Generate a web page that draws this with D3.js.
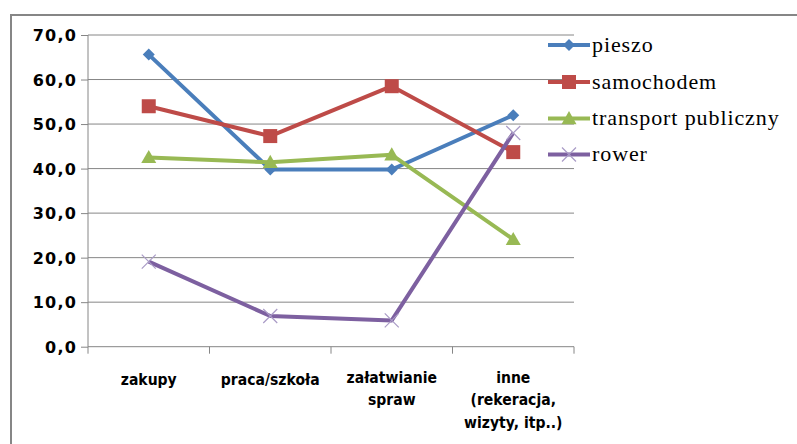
<!DOCTYPE html>
<html><head><meta charset="utf-8">
<script src="https://cdn.jsdelivr.net/npm/d3@7/dist/d3.min.js"></script>
<style>body{margin:0;background:#fff}svg{display:block}
.leg{font-family:"Liberation Serif","Times New Roman","DejaVu Serif",serif}</style>
</head><body>
<svg id="c" width="797" height="444"></svg>
<script>
const categories = ["zakupy", "praca/szkoła", "załatwianie spraw", "inne (rekeracja, wizyty, itp..)"];
const categoryLines = [["zakupy"], ["praca/szkoła"], ["załatwianie", "spraw"], ["inne", "(rekeracja,", "wizyty, itp..)"]];
const seriesNames = ["pieszo", "samochodem", "transport publiczny", "rower"];
const pieszo = [65.6, 39.8, 39.8, 52.0];
const samochodem = [54.0, 47.3, 58.5, 43.7];
const transportPubliczny = [42.5, 41.4, 43.1, 24.1];
const rower = [19.1, 6.9, 5.9, 48.0];
const yTicks = [0, 10, 20, 30, 40, 50, 60, 70];
const colors = ["#4a7ebb", "#be4b48", "#98b954", "#7d60a0"];
const markers = ["diamond", "square", "triangle", "x"];
const seriesValues = [pieszo, samochodem, transportPubliczny, rower];

const svg = d3.select("#c");
const gray = "#868686";

// outer border
svg.append("path").attr("d", "M11,444 V15 H797").attr("fill", "none").attr("stroke", gray).attr("stroke-width", 2);

const pLeft = 88, pRight = 574, pTop = 35, pBottom = 346.7;
const x = d3.scaleBand().domain(categories).range([pLeft, pRight]);
const y = d3.scaleLinear().domain([0, 70]).range([pBottom, pTop]);

// gridlines
svg.append("g").selectAll("line").data(yTicks.filter(d => d > 0)).join("line")
  .attr("x1", pLeft).attr("x2", pRight).attr("y1", d => y(d)).attr("y2", d => y(d))
  .attr("stroke", gray).attr("stroke-width", 1);

// y axis
const yAxis = d3.axisLeft(y).tickValues(yTicks).tickSize(7).tickPadding(4)
  .tickFormat(d => d3.format(".1f")(d).replace(".", ","));
const gy = svg.append("g").attr("transform", `translate(${pLeft},0)`).call(yAxis);
gy.select(".domain").attr("stroke", gray).attr("d", `M0,${pTop}V${pBottom}`);
gy.selectAll(".tick line").attr("stroke", gray);
gy.selectAll(".tick text").attr("fill", "#000").attr("font-family", "DejaVu Sans")
  .attr("font-weight", "bold").attr("font-size", 16).attr("letter-spacing", 1.2).attr("dy", "0.35em");

// x axis
const xAxis = d3.axisBottom(x).tickSize(0).tickFormat("");
const gx = svg.append("g").attr("transform", `translate(0,${pBottom})`).call(xAxis);
gx.select(".domain").attr("stroke", gray).attr("d", `M${pLeft},0H${pRight}`);
const boundaries = [...categories.map(c => x(c)), pRight];
gx.selectAll(".bt").data(boundaries).join("line").attr("class", "bt")
  .attr("x1", d => d).attr("x2", d => d).attr("y1", 0).attr("y2", 7).attr("stroke", gray);

// category labels
const lab = svg.append("g");
categories.forEach((c, i) => {
  const cx = x(c) + x.bandwidth() / 2;
  const base = categoryLines[i].length > 1 ? 383 : 385;
  const t = lab.append("text").attr("transform", `translate(${cx},${base}) scale(1,1.12)`).attr("text-anchor", "middle")
    .attr("font-family", "DejaVu Sans").attr("font-weight", "bold").attr("font-size", 14).attr("fill", "#000");
  categoryLines[i].forEach((ln, j) => {
    t.append("tspan").attr("x", 0).attr("y", j * 22.5 / 1.12).text(ln);
  });
});

function drawMarker(g, type, cx, cy, color) {
  if (type === "diamond") {
    const s = 6;
    g.append("path").attr("d", `M${cx},${cy - s}L${cx + s},${cy}L${cx},${cy + s}L${cx - s},${cy}Z`).attr("fill", color);
  } else if (type === "square") {
    const s = 7;
    g.append("rect").attr("x", cx - s).attr("y", cy - s).attr("width", 2 * s).attr("height", 2 * s).attr("fill", color);
  } else if (type === "triangle") {
    const s = 7.5;
    g.append("path").attr("d", `M${cx},${cy - s}L${cx + s},${cy + s * 0.75}L${cx - s},${cy + s * 0.75}Z`).attr("fill", color);
  } else {
    const s = 7;
    g.append("path").attr("d", `M${cx - s},${cy - s}L${cx + s},${cy + s}M${cx - s},${cy + s}L${cx + s},${cy - s}`)
      .attr("stroke", "#a99bc6").attr("stroke-width", 1.2).attr("fill", "none");
  }
}

const line = d3.line().x((d, i) => x(categories[i]) + x.bandwidth() / 2).y(d => y(d));
seriesValues.forEach((vals, k) => {
  const g = svg.append("g");
  g.append("path").datum(vals).attr("d", line).attr("fill", "none").attr("stroke", colors[k])
    .attr("stroke-width", 4).attr("stroke-linejoin", "round");
  vals.forEach((v, i) => drawMarker(g, markers[k], x(categories[i]) + x.bandwidth() / 2, y(v), colors[k]));
});

// legend
const legY = [45, 82, 118.5, 154.5];
const leg = svg.append("g");
seriesNames.forEach((n, k) => {
  leg.append("line").attr("x1", 548).attr("x2", 590).attr("y1", legY[k]).attr("y2", legY[k])
    .attr("stroke", colors[k]).attr("stroke-width", 4);
  drawMarker(leg, markers[k], 569, legY[k], colors[k]);
  leg.append("text").attr("class", "leg").attr("x", 592).attr("y", legY[k] + 6.5)
    .attr("font-size", 22).attr("letter-spacing", 0.9).attr("fill", "#000").text(n);
});
</script>
</body></html>
